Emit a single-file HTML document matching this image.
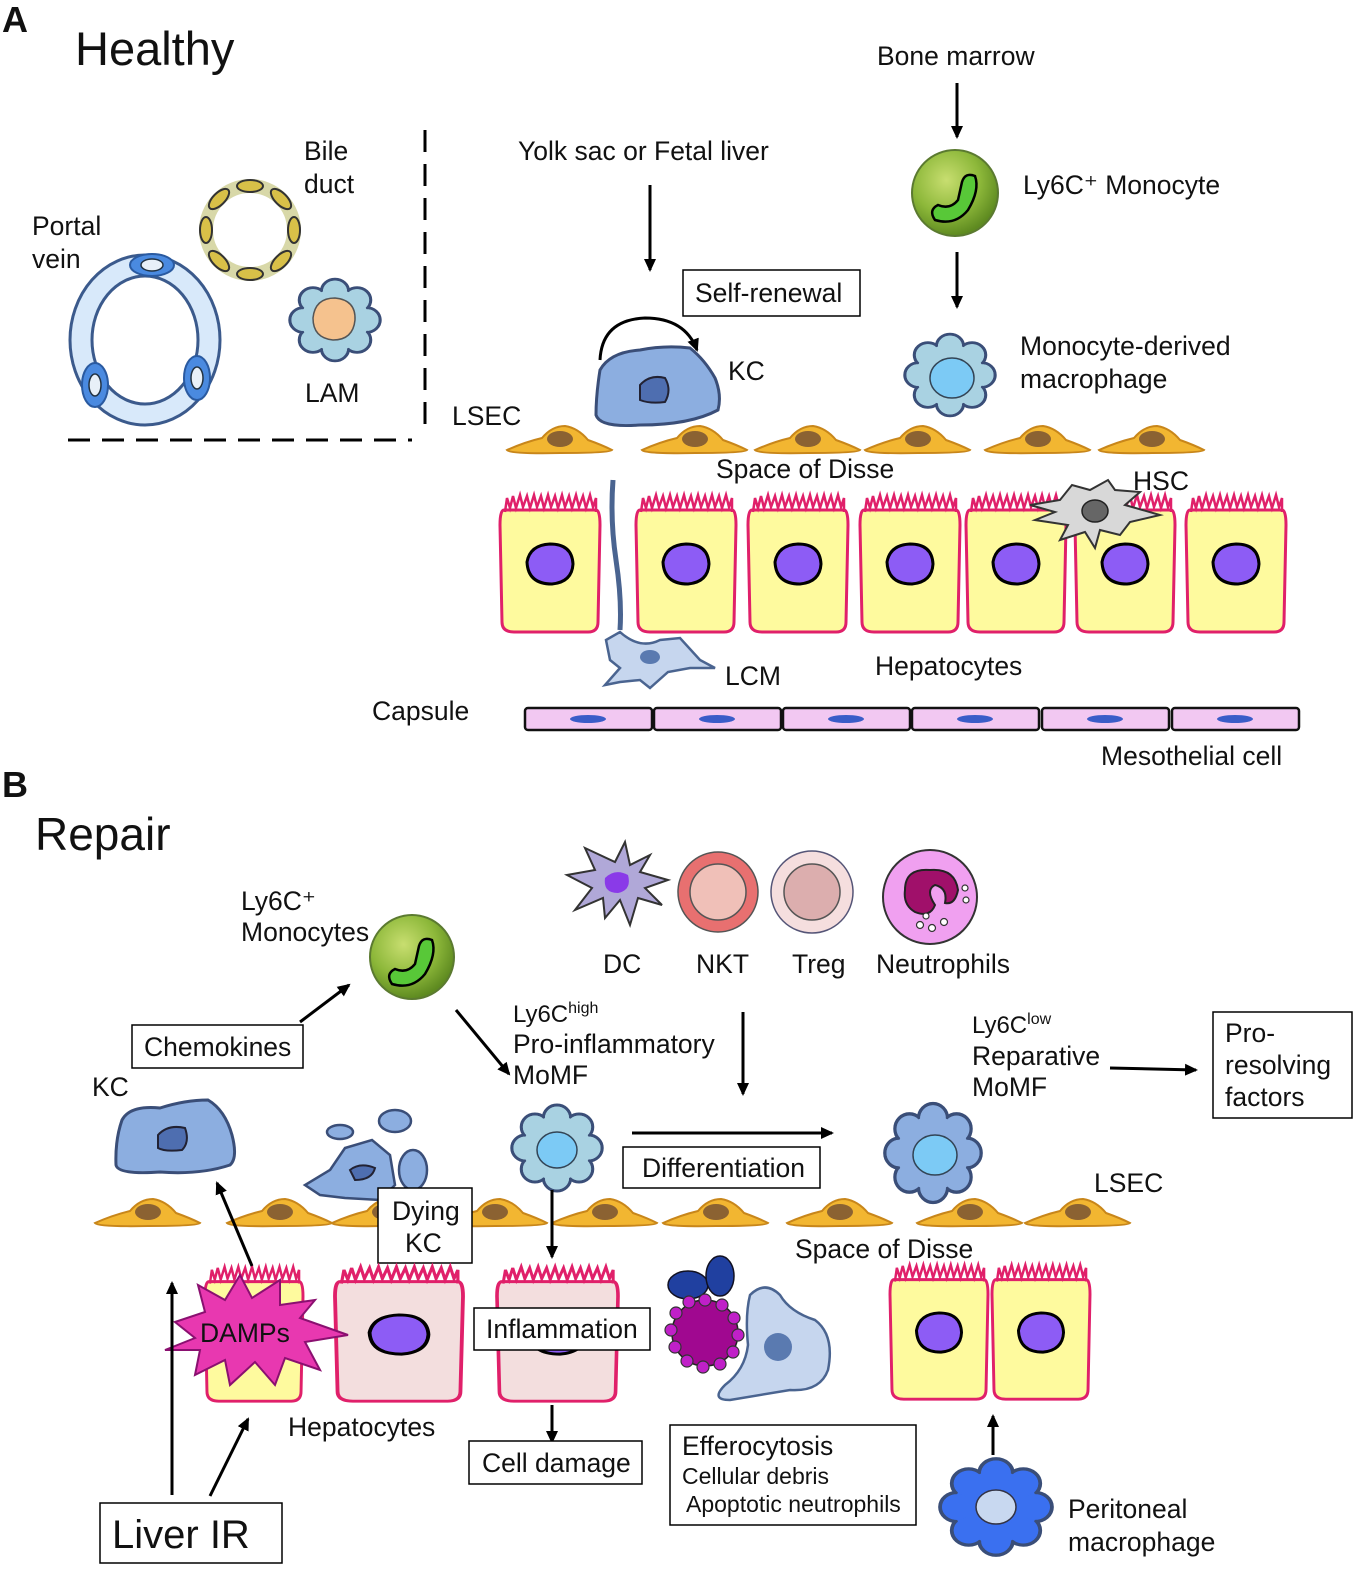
<!DOCTYPE html>
<html><head><meta charset="utf-8"><style>
body{margin:0;background:#fff}
svg text{font-family:"Liberation Sans",sans-serif;fill:#111}
</style></head><body>
<svg width="1358" height="1570" viewBox="0 0 1358 1570" xmlns="http://www.w3.org/2000/svg">
<defs>
<marker id="ah" markerWidth="14" markerHeight="14" refX="11" refY="6" orient="auto" markerUnits="userSpaceOnUse"><path d="M0,0 L13,6 L0,12 Z" fill="#000"/></marker>
<radialGradient id="mono" cx="40%" cy="35%" r="65%"><stop offset="0" stop-color="#c8de70"/><stop offset="0.6" stop-color="#8db83a"/><stop offset="1" stop-color="#5e8a20"/></radialGradient>
<g id="blob">
 <g stroke="#3a4e78" stroke-width="3">
  <circle cx="0" cy="0" r="32"/><circle cx="30" cy="0" r="13"/><circle cx="21" cy="21" r="13"/><circle cx="0" cy="30" r="13"/><circle cx="-21" cy="21" r="13"/><circle cx="-30" cy="0" r="13"/><circle cx="-21" cy="-21" r="13"/><circle cx="0" cy="-30" r="13"/><circle cx="21" cy="-21" r="13"/>
 </g>
 <g stroke="none">
  <circle cx="0" cy="0" r="32"/><circle cx="30" cy="0" r="11.5"/><circle cx="21" cy="21" r="11.5"/><circle cx="0" cy="30" r="11.5"/><circle cx="-21" cy="21" r="11.5"/><circle cx="-30" cy="0" r="11.5"/><circle cx="-21" cy="-21" r="11.5"/><circle cx="0" cy="-30" r="11.5"/><circle cx="21" cy="-21" r="11.5"/>
 </g>
</g>
<g id="lsec">
 <path d="M-53,10 Q-35,2 -18,-2 Q-8,-14 5,-14 Q18,-12 28,0 Q42,5 52,10 Q50,13 0,13 Q-50,14 -53,10 Z" fill="#f2b631" stroke="#c8861a" stroke-width="2"/>
 <ellipse cx="0" cy="-1" rx="13" ry="8" fill="#8b6232"/>
</g>
<g id="hep">
 <path d="M4,20 Q0,20 0,35 L2,132 Q2,142 14,142 L88,142 Q98,142 98,132 L100,35 Q100,20 96,20 Z" stroke="#e0206a" stroke-width="3"/>
 <path d="M5,22 L7,8 L10,18 L13,6 L16,18 L20,5 L23,17 L27,6 L30,18 L34,5 L37,17 L41,6 L44,18 L48,5 L51,17 L55,6 L58,18 L62,5 L65,17 L69,6 L72,18 L76,5 L79,17 L83,6 L86,18 L90,5 L93,17 L96,8 L96,22" fill="none" stroke="#e0206a" stroke-width="2.5"/>
 <path d="M27,72 Q30,55 50,54 Q72,54 73,74 Q72,92 52,94 Q28,94 27,72 Z" fill="#8d5cf5" stroke="#000" stroke-width="3"/>
</g>
<g id="meso">
 <rect x="0" y="0" width="127" height="22" rx="3" fill="#f2c8f2" stroke="#111" stroke-width="2.5"/>
 <ellipse cx="63" cy="11" rx="18" ry="4" fill="#3a5cc8"/>
</g>
</defs>
<rect width="1358" height="1570" fill="#fff"/>

<!-- PART A -->
<text x="2" y="32" font-size="36" font-weight="bold">A</text>
<text x="75" y="65" font-size="47">Healthy</text>

<ellipse cx="145" cy="340" rx="75" ry="85" fill="#d8e9fa" stroke="#3b5a8c" stroke-width="3"/>
<ellipse cx="145" cy="340" rx="53" ry="64" fill="#fff" stroke="#3b5a8c" stroke-width="3"/>
<ellipse cx="152" cy="265" rx="22" ry="11" fill="#4a8ae0" stroke="#2a5aa0" stroke-width="2"/><ellipse cx="152" cy="265" rx="11" ry="6" fill="#e8f0f8" stroke="#234" stroke-width="1.5"/>
<ellipse cx="95" cy="385" rx="13" ry="22" fill="#4a8ae0" stroke="#2a5aa0" stroke-width="2"/><ellipse cx="95" cy="385" rx="6" ry="11" fill="#e8f0f8" stroke="#234" stroke-width="1.5"/>
<ellipse cx="197" cy="378" rx="13" ry="22" fill="#4a8ae0" stroke="#2a5aa0" stroke-width="2"/><ellipse cx="197" cy="378" rx="6" ry="11" fill="#e8f0f8" stroke="#234" stroke-width="1.5"/>
<text x="32" y="235" font-size="26.5">Portal</text><text x="32" y="268" font-size="26.5">vein</text>

<g fill="#d8c048" stroke="#333" stroke-width="2">
<circle cx="250" cy="230" r="44" fill="none" stroke="#d8d8a8" stroke-width="14"/>
<ellipse cx="294" cy="230" rx="6" ry="13"/><ellipse cx="281" cy="261" rx="6" ry="13" transform="rotate(45 281 261)"/><ellipse cx="250" cy="274" rx="13" ry="6"/><ellipse cx="219" cy="261" rx="6" ry="13" transform="rotate(-45 219 261)"/><ellipse cx="206" cy="230" rx="6" ry="13"/><ellipse cx="219" cy="199" rx="6" ry="13" transform="rotate(45 219 199)"/><ellipse cx="250" cy="186" rx="13" ry="6"/><ellipse cx="281" cy="199" rx="6" ry="13" transform="rotate(-45 281 199)"/>
</g>
<text x="304" y="160" font-size="26.5">Bile</text><text x="304" y="193" font-size="26.5">duct</text>

<use href="#blob" transform="translate(335,320) scale(1.05,0.95)" fill="#a9d2e2"/>
<path d="M313,318 Q315,298 335,298 Q356,300 355,320 Q353,340 333,340 Q313,338 313,318Z" fill="#f5c28e" stroke="#555" stroke-width="1.5"/>
<text x="305" y="402" font-size="26.5">LAM</text>

<line x1="425" y1="130" x2="425" y2="432" stroke="#000" stroke-width="3" stroke-dasharray="22,12"/>
<line x1="68" y1="440" x2="412" y2="440" stroke="#000" stroke-width="3" stroke-dasharray="22,12"/>

<text x="518" y="160" font-size="26.5">Yolk sac or Fetal liver</text>
<line x1="650" y1="185" x2="650" y2="270" stroke="#000" stroke-width="3" marker-end="url(#ah)"/>
<text x="877" y="65" font-size="26.5">Bone marrow</text>
<line x1="957" y1="83" x2="957" y2="137" stroke="#000" stroke-width="3" marker-end="url(#ah)"/>
<circle cx="955" cy="193" r="43" fill="url(#mono)" stroke="#5b7a30" stroke-width="2"/>
<path d="M938,205 Q950,210 958,200 L962,182 Q965,172 975,176 Q980,190 968,210 Q955,226 935,220 Q928,210 938,205Z" fill="#58c838" stroke="#000" stroke-width="2.5"/>
<text x="1023" y="194" font-size="26.5">Ly6C⁺ Monocyte</text>
<line x1="957" y1="252" x2="957" y2="307" stroke="#000" stroke-width="3" marker-end="url(#ah)"/>

<rect x="683" y="270" width="177" height="46" fill="#fff" stroke="#000" stroke-width="1.5"/>
<text x="695" y="302" font-size="26.5">Self-renewal</text>
<path d="M600,360 Q602,320 645,318 Q685,318 697,350" fill="none" stroke="#000" stroke-width="3" marker-end="url(#ah)"/>
<path d="M600,370 Q610,352 640,350 Q665,345 690,348 Q705,360 715,378 Q722,395 718,410 Q690,425 640,425 Q600,428 596,415 Q596,395 600,370Z" fill="#8caee0" stroke="#3a4e78" stroke-width="3"/>
<path d="M640,385 Q650,374 665,378 Q672,390 665,402 Q650,404 640,400Z" fill="#4e6eb0" stroke="#223" stroke-width="2"/>
<text x="728" y="380" font-size="26.5">KC</text>

<use href="#blob" transform="translate(950,375) scale(1.05,0.95)" fill="#a9d2e2"/>
<ellipse cx="952" cy="378" rx="22" ry="20" fill="#7ccaf5" stroke="#345" stroke-width="1.5"/>
<text x="1020" y="355" font-size="26.5">Monocyte-derived</text>
<text x="1020" y="388" font-size="26.5">macrophage</text>

<text x="452" y="425" font-size="26.5">LSEC</text>
<use href="#lsec" x="560" y="440"/><use href="#lsec" x="695" y="440"/><use href="#lsec" x="808" y="440"/><use href="#lsec" x="918" y="440"/><use href="#lsec" x="1038" y="440"/><use href="#lsec" x="1152" y="440"/>
<text x="716" y="478" font-size="26.5">Space of Disse</text>

<g fill="#fefa9e">
<use href="#hep" x="500" y="490"/><use href="#hep" x="636" y="490"/><use href="#hep" x="748" y="490"/><use href="#hep" x="860" y="490"/><use href="#hep" x="966" y="490"/><use href="#hep" x="1075" y="490"/><use href="#hep" x="1186" y="490"/>
</g>
<path d="M1030,505 L1060,500 L1072,485 L1090,490 L1108,480 L1115,490 L1140,492 L1125,505 L1160,515 L1130,522 L1120,535 L1100,530 L1095,548 L1085,532 L1060,540 L1068,525 L1035,520 L1055,512 Z" fill="#d8d8d8" stroke="#333" stroke-width="2"/>
<ellipse cx="1095" cy="511" rx="13" ry="11" fill="#666" stroke="#222" stroke-width="1.5"/>
<text x="1133" y="490" font-size="26.5">HSC</text>

<path d="M613,480 Q610,520 616,560 Q622,600 620,630" fill="none" stroke="#4a6490" stroke-width="5"/>
<path d="M620,632 Q640,650 660,640 L680,638 L700,660 L715,668 L690,668 L668,672 L650,688 L640,680 L620,682 L605,685 L620,668 L610,660 L606,640 Z" fill="#c6d6ee" stroke="#4a6490" stroke-width="2.5"/>
<ellipse cx="650" cy="657" rx="10" ry="7" fill="#5a7ab0"/>
<text x="725" y="685" font-size="26.5">LCM</text>
<text x="875" y="675" font-size="26.5">Hepatocytes</text>

<text x="372" y="720" font-size="26.5">Capsule</text>
<use href="#meso" x="525" y="708"/><use href="#meso" x="654" y="708"/><use href="#meso" x="783" y="708"/><use href="#meso" x="912" y="708"/><use href="#meso" x="1042" y="708"/><use href="#meso" x="1172" y="708"/>
<text x="1101" y="765" font-size="26.5">Mesothelial  cell</text>

<!-- PART B -->
<text x="2" y="797" font-size="36" font-weight="bold">B</text>
<text x="35" y="850" font-size="46">Repair</text>

<text x="241" y="910" font-size="26.5">Ly6C⁺</text><text x="241" y="941" font-size="26.5">Monocytes</text>
<circle cx="412" cy="957" r="42" fill="url(#mono)" stroke="#5b7a30" stroke-width="2"/>
<path d="M395,969 Q407,974 415,964 L419,946 Q422,936 432,940 Q437,954 425,974 Q412,990 392,984 Q385,974 395,969Z" fill="#58c838" stroke="#000" stroke-width="2.5"/>
<rect x="132" y="1025" width="171" height="43" fill="#fff" stroke="#000" stroke-width="1.5"/>
<text x="144" y="1056" font-size="26.5">Chemokines</text>
<line x1="300" y1="1022" x2="349" y2="985" stroke="#000" stroke-width="3" marker-end="url(#ah)"/>
<line x1="456" y1="1010" x2="509" y2="1074" stroke="#000" stroke-width="3" marker-end="url(#ah)"/>
<text x="513" y="1022" font-size="24">Ly6C<tspan font-size="16" dy="-9">high</tspan></text>
<text x="513" y="1053" font-size="26.5">Pro-inflammatory</text>
<text x="513" y="1084" font-size="26.5">MoMF</text>

<path d="M615,862 L625,842 L630,865 L650,855 L640,872 L668,880 L645,888 L662,905 L638,898 L630,925 L620,900 L605,918 L603,898 L575,910 L592,888 L567,875 L595,870 L585,848 Z" fill="#b0a8d8" stroke="#333" stroke-width="2"/>
<path d="M605,878 Q615,868 628,875 Q632,890 618,893 Q603,893 605,878Z" fill="#8a3ae8"/>
<text x="603" y="973" font-size="26.5">DC</text>
<circle cx="718" cy="892" r="40" fill="#e87070" stroke="#555" stroke-width="1.5"/>
<circle cx="718" cy="892" r="28" fill="#f0c0b8" stroke="#555" stroke-width="1.5"/>
<text x="696" y="973" font-size="26.5">NKT</text>
<circle cx="812" cy="892" r="41" fill="#f5dede" stroke="#557" stroke-width="1.5"/>
<circle cx="812" cy="892" r="28" fill="#dcaeae" stroke="#555" stroke-width="1.5"/>
<text x="792" y="973" font-size="26.5">Treg</text>
<circle cx="930" cy="897" r="47" fill="#f0a0f0" stroke="#333" stroke-width="2"/>
<path d="M905,890 Q905,868 930,870 Q955,868 958,890 Q955,905 945,903 Q948,888 935,885 Q925,890 935,905 Q930,918 915,912 Q903,905 905,890Z" fill="#a0106a" stroke="#222" stroke-width="2"/>
<g fill="#fff" stroke="#333" stroke-width="1.2"><circle cx="920" cy="925" r="3.5"/><circle cx="932" cy="928" r="3.5"/><circle cx="944" cy="922" r="3.5"/><circle cx="926" cy="916" r="3"/><circle cx="965" cy="888" r="3"/><circle cx="966" cy="900" r="3"/></g>
<text x="876" y="973" font-size="26.5">Neutrophils</text>
<line x1="743" y1="1012" x2="743" y2="1094" stroke="#000" stroke-width="3" marker-end="url(#ah)"/>

<text x="972" y="1033" font-size="24">Ly6C<tspan font-size="16" dy="-9">low</tspan></text>
<text x="972" y="1065" font-size="26.5">Reparative</text>
<text x="972" y="1096" font-size="26.5">MoMF</text>
<line x1="1110" y1="1068" x2="1196" y2="1070" stroke="#000" stroke-width="3" marker-end="url(#ah)"/>
<rect x="1213" y="1012" width="139" height="106" fill="#fff" stroke="#000" stroke-width="1.5"/>
<text x="1225" y="1042" font-size="26.5">Pro-</text><text x="1225" y="1074" font-size="26.5">resolving</text><text x="1225" y="1106" font-size="26.5">factors</text>

<text x="92" y="1096" font-size="26.5">KC</text>
<path d="M122,1120 Q130,1105 160,1108 Q185,1100 208,1100 Q225,1110 232,1135 Q238,1158 230,1165 Q200,1175 160,1172 Q118,1175 116,1165 Q115,1140 122,1120Z" fill="#8caee0" stroke="#3a4e78" stroke-width="3"/>
<path d="M158,1135 Q168,1124 185,1128 Q190,1142 182,1150 Q165,1152 158,1148Z" fill="#4e6eb0" stroke="#223" stroke-width="2"/>
<g fill="#8caee0" stroke="#3a4e78" stroke-width="2.5">
<ellipse cx="395" cy="1121" rx="16" ry="11"/><ellipse cx="340" cy="1132" rx="13" ry="7"/><ellipse cx="413" cy="1170" rx="14" ry="20"/>
<path d="M330,1170 L345,1148 L372,1140 L390,1155 L395,1185 L380,1200 L345,1198 L320,1195 L305,1185 Z"/>
</g>
<path d="M350,1170 Q360,1162 375,1168 Q372,1180 355,1180Z" fill="#4e6eb0" stroke="#223" stroke-width="2"/>

<use href="#blob" transform="translate(557,1148) scale(1.05,1.0)" fill="#a9d2e2"/>
<ellipse cx="557" cy="1150" rx="20" ry="18" fill="#7ccaf5" stroke="#345" stroke-width="1.5"/>
<line x1="632" y1="1133" x2="832" y2="1133" stroke="#000" stroke-width="3" marker-end="url(#ah)"/>
<rect x="623" y="1147" width="197" height="41" fill="#fff" stroke="#000" stroke-width="1.5"/>
<text x="642" y="1177" font-size="26.5">Differentiation</text>
<use href="#blob" transform="translate(933,1153) scale(1.12,1.15)" fill="#8caee0"/>
<ellipse cx="935" cy="1155" rx="22" ry="20" fill="#7ccaf5" stroke="#345" stroke-width="1.5"/>

<text x="1094" y="1192" font-size="26.5">LSEC</text>
<use href="#lsec" x="148" y="1213"/><use href="#lsec" x="280" y="1213"/><use href="#lsec" x="385" y="1213"/><use href="#lsec" x="495" y="1213"/><use href="#lsec" x="605" y="1213"/><use href="#lsec" x="716" y="1213"/><use href="#lsec" x="840" y="1213"/><use href="#lsec" x="970" y="1213"/><use href="#lsec" x="1078" y="1213"/>
<rect x="378" y="1188" width="94" height="75" fill="#fff" stroke="#000" stroke-width="1.5"/>
<text x="392" y="1220" font-size="26.5">Dying</text><text x="405" y="1252" font-size="26.5">KC</text>
<line x1="552" y1="1190" x2="552" y2="1257" stroke="#000" stroke-width="3" marker-end="url(#ah)"/>
<text x="795" y="1258" font-size="26.5">Space of Disse</text>

<use href="#hep" transform="translate(205,1262) scale(0.98,0.98)" fill="#fefa9e"/>
<use href="#hep" transform="translate(335,1262) scale(1.28,0.98)" fill="#f3dede"/>
<use href="#hep" transform="translate(497,1262) scale(1.21,0.98)" fill="#f3dede"/>
<use href="#hep" transform="translate(890,1260) scale(0.98,0.98)" fill="#fefa9e"/>
<use href="#hep" transform="translate(992,1260) scale(0.98,0.98)" fill="#fefa9e"/>
<path d="M175,1322 L205,1312 L198,1285 L225,1300 L240,1275 L252,1298 L280,1280 L280,1305 L315,1300 L300,1318 L348,1335 L305,1342 L320,1370 L285,1358 L275,1385 L255,1362 L230,1385 L225,1360 L195,1375 L200,1350 L165,1350 L195,1338 Z" fill="#e838b0" stroke="#8a1070" stroke-width="2"/>
<text x="200" y="1342" font-size="26.5">DAMPs</text>
<rect x="474" y="1308" width="176" height="42" fill="#fff" stroke="#000" stroke-width="1.5"/>
<text x="486" y="1338" font-size="26.5">Inflammation</text>
<line x1="552" y1="1405" x2="552" y2="1442" stroke="#000" stroke-width="3" marker-end="url(#ah)"/>
<rect x="469" y="1441" width="173" height="43" fill="#fff" stroke="#000" stroke-width="1.5"/>
<text x="482" y="1472" font-size="26.5">Cell damage</text>
<text x="288" y="1436" font-size="26.5">Hepatocytes</text>

<ellipse cx="688" cy="1285" rx="20" ry="14" fill="#2040a0" stroke="#112" stroke-width="1.5"/>
<ellipse cx="720" cy="1276" rx="14" ry="20" fill="#2040a0" stroke="#112" stroke-width="1.5"/>
<path d="M750,1295 Q765,1280 780,1295 Q790,1312 815,1320 Q835,1335 828,1370 Q820,1392 790,1390 Q760,1395 730,1400 Q710,1400 725,1385 Q745,1370 748,1345 Q745,1315 750,1295Z" fill="#c6d6ee" stroke="#4a6490" stroke-width="2.5"/>
<circle cx="778" cy="1347" r="14" fill="#5a7ab0"/>
<circle cx="705" cy="1333" r="33" fill="#a00890" stroke="#222" stroke-width="1.5"/>
<g fill="#c020c8" stroke="#333" stroke-width="1.2">
<circle cx="705" cy="1300" r="6"/><circle cx="722" cy="1305" r="6"/><circle cx="734" cy="1318" r="6"/><circle cx="738" cy="1335" r="6"/><circle cx="733" cy="1352" r="6"/><circle cx="720" cy="1364" r="6"/><circle cx="703" cy="1367" r="6"/><circle cx="687" cy="1361" r="6"/><circle cx="675" cy="1347" r="6"/><circle cx="671" cy="1330" r="6"/><circle cx="676" cy="1313" r="6"/><circle cx="689" cy="1302" r="6"/></g>
<rect x="670" y="1425" width="246" height="100" fill="#fff" stroke="#000" stroke-width="1.5"/>
<text x="682" y="1455" font-size="26.5">Efferocytosis</text>
<text x="682" y="1484" font-size="23">Cellular debris</text>
<text x="686" y="1512" font-size="23">Apoptotic neutrophils</text>

<line x1="993" y1="1455" x2="993" y2="1416" stroke="#000" stroke-width="3" marker-end="url(#ah)"/>
<g transform="translate(996,1507) scale(1.3,1.12)"><g fill="#3a70f0" stroke="#223a80" stroke-width="1"><use href="#blob"/></g></g>
<ellipse cx="996" cy="1507" rx="20" ry="17" fill="#c8d8f0" stroke="#334" stroke-width="1.5"/>
<text x="1068" y="1518" font-size="26.5">Peritoneal</text><text x="1068" y="1551" font-size="26.5">macrophage</text>

<rect x="100" y="1503" width="182" height="60" fill="#fff" stroke="#000" stroke-width="1.5"/>
<text x="112" y="1548" font-size="40">Liver IR</text>
<line x1="172" y1="1495" x2="172" y2="1283" stroke="#000" stroke-width="3" marker-end="url(#ah)"/>
<line x1="210" y1="1496" x2="248" y2="1419" stroke="#000" stroke-width="3" marker-end="url(#ah)"/>
<line x1="252" y1="1266" x2="217" y2="1183" stroke="#000" stroke-width="3" marker-end="url(#ah)"/>
</svg>
</body></html>
